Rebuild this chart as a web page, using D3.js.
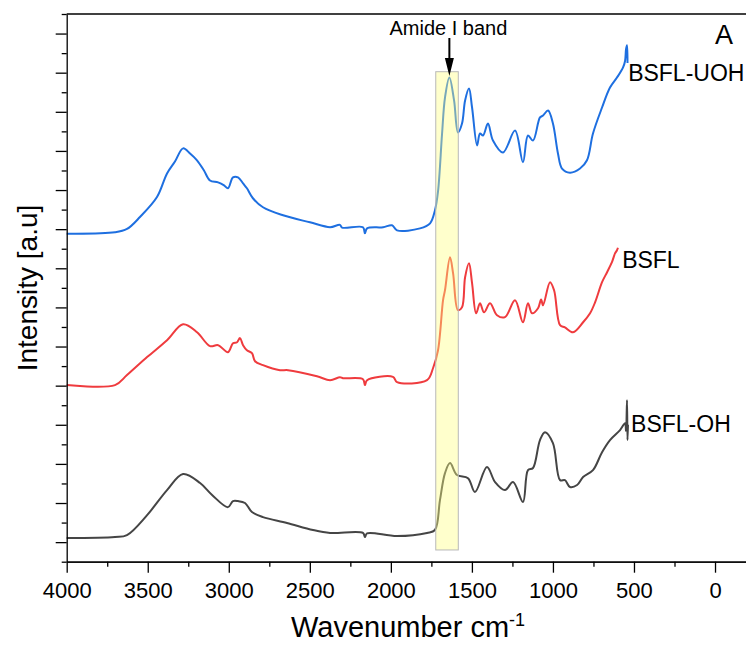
<!DOCTYPE html>
<html>
<head>
<meta charset="utf-8">
<script src="https://cdnjs.cloudflare.com/ajax/libs/d3/7.8.5/d3.min.js"></script>
<style>
  body { margin: 0; background: #fff; }
  svg { font-family: "Liberation Sans", Arial, sans-serif; }
</style>
</head>
<body>
<svg id="chart"></svg>
<script>
// FTIR spectra, values (wavenumber cm-1, stacked intensity a.u.)
const uohWave = [4000,3702,3628,3548,3443,3381,3332,3282,3239,3196,3153,3116,3066,3029,3005,2974,2943,2912,2888,2851,2789,2665,2499,2375,2314,2301,2172,2160,2147,2048,1993,1962,1820,1758,1728,1709,1684,1666,1639,1610,1586,1561,1542,1518,1499,1468,1450,1431,1401,1370,1308,1234,1185,1154,1123,1080,1061,1030,1000,969,944,895,833,790,753,697,648,605,568,555,549,543,540];
const uohInt = [16.77,16.84,17.01,17.62,18.64,19.85,20.46,21.13,20.87,20.52,20.0,19.49,19.39,19.24,19.09,19.65,19.65,19.34,19.09,18.58,18.12,17.71,17.35,17.10,17.22,17.08,17.10,16.79,17.04,17.10,17.20,16.94,17.04,17.30,17.96,18.93,21.89,23.73,24.76,23.58,21.94,22.40,23.58,24.19,23.22,21.28,21.89,21.79,22.40,21.53,20.92,22.04,20.42,21.79,21.53,22.71,22.81,23.07,22.40,20.87,20.10,19.89,20.10,20.52,21.89,23.22,24.24,24.75,25.26,25.6,26.2,26.4,25.5];

const bsflWave = [4000,3702,3628,3504,3381,3282,3196,3116,3066,3005,2974,2949,2931,2912,2888,2857,2838,2789,2684,2634,2456,2375,2314,2295,2172,2160,2147,1987,1962,1777,1740,1709,1678,1666,1635,1616,1586,1561,1542,1518,1499,1474,1450,1425,1388,1345,1296,1234,1185,1154,1129,1092,1073,1061,1018,993,956,926,876,814,771,740,697,666,636,617,605,599];
const bsflInt = [9.03,9.03,9.54,10.46,11.32,12.14,11.73,11.02,11.07,10.71,11.17,11.22,11.43,11.07,10.81,10.66,10.25,10.05,9.79,9.79,9.48,9.28,9.43,9.38,9.33,9.03,9.28,9.45,9.18,9.28,9.89,10.81,13.37,13.88,15.56,14.74,12.86,13.01,14.54,15.26,14.24,12.70,13.21,12.75,13.21,12.60,12.50,13.37,12.24,13.21,12.70,12.96,13.41,13.11,14.29,13.88,12.09,11.98,11.73,12.24,12.70,13.26,14.29,14.80,15.31,15.76,15.92,16.05];

const ohWave = [4000,3702,3628,3504,3381,3282,3177,3103,3005,2974,2943,2900,2857,2789,2641,2480,2375,2172,2160,2147,1962,1777,1728,1697,1666,1635,1592,1524,1481,1407,1357,1296,1246,1185,1154,1123,1080,1049,1000,956,926,895,851,814,753,697,648,586,555,549,543,540,537];
const ohInt = [1.21,1.26,1.36,2.38,3.66,4.48,4.02,3.41,2.79,3.10,3.10,3.00,2.54,2.28,1.98,1.62,1.47,1.47,1.26,1.45,1.31,1.47,1.62,3.15,4.53,5.04,4.43,4.27,3.56,4.84,4.07,3.66,4.07,3.05,4.68,4.79,6.22,6.62,6.06,4.17,4.17,3.82,3.92,4.33,4.68,5.60,6.22,6.73,7.08,6.70,8.26,6.22,7.00];

const seriesNames = ['BSFL-UOH', 'BSFL', 'BSFL-OH'];
const seriesColors = ['#1e6fe0', '#ef3b3e', '#454545'];
// label anchor (wavenumber, intensity) for each series name
const labelWave = [536, 573, 518];
const labelInt = [24.6, 15.0, 6.62];

const xMajorTicks = [4000, 3500, 3000, 2500, 2000, 1500, 1000, 500, 0];
const xMinorTicks = [3750, 3250, 2750, 2250, 1750, 1250, 750, 250, -250];
const yTicks = d3.range(0, 29);

// Amide I band: wavenumber limits, intensity limits, arrow position
const amideBand = [1723, 1584];
const amideBandInt = [0.6, 25.05];
const amidePeak = 1639;

const W = 746, H = 648;
const margin = { top: 14, left: 66.7, bottom: 86.3 };
const plotBottom = H - margin.bottom;

const svg = d3.select('#chart').attr('width', W).attr('height', H);

// x runs past the right edge of the picture, like the original
const x = d3.scaleLinear().domain([4000, -300]).range([margin.left, margin.left + 4300 * 0.16208]);
const y = d3.scaleLinear().domain([0, 28]).range([plotBottom, margin.top]);

// Spectra
const series = [
  d3.zip(uohWave, uohInt),
  d3.zip(bsflWave, bsflInt),
  d3.zip(ohWave, ohInt)
];
const line = d3.line()
  .x(d => x(d[0]))
  .y(d => y(d[1]))
  .curve(d3.curveCatmullRom.alpha(0.5));

svg.append('g').selectAll('path')
  .data(series)
  .join('path')
  .attr('d', line)
  .attr('fill', 'none')
  .attr('stroke', (d, i) => seriesColors[i])
  .attr('stroke-width', 2)
  .attr('stroke-linejoin', 'round');

// Amide I highlight, drawn over the lines
svg.append('rect')
  .attr('x', x(amideBand[0]))
  .attr('width', x(amideBand[1]) - x(amideBand[0]))
  .attr('y', y(amideBandInt[1]))
  .attr('height', y(amideBandInt[0]) - y(amideBandInt[1]))
  .attr('fill', '#ffff80')
  .attr('fill-opacity', 0.4)
  .attr('stroke', '#b8b8b8')
  .attr('stroke-width', 1);

// Axes
const xAxisMajor = d3.axisBottom(x).tickValues(xMajorTicks).tickSize(11).tickSizeOuter(0).tickPadding(10).tickFormat(d3.format('d'));
const xAxisMinor = d3.axisBottom(x).tickValues(xMinorTicks).tickSize(5).tickSizeOuter(0).tickFormat('');

const xG = svg.append('g').attr('transform', `translate(0,${plotBottom})`).call(xAxisMajor);
svg.append('g').attr('transform', `translate(0,${plotBottom})`).call(xAxisMinor);
xG.selectAll('text').attr('font-size', 22).attr('fill', '#000');

const yAxis = d3.axisLeft(y).tickValues(yTicks).tickSizeOuter(0).tickFormat('');
const yG = svg.append('g').attr('transform', `translate(${margin.left},0)`).call(yAxis);
yG.selectAll('.tick line').attr('x2', d => d % 2 ? -11 : -5);

svg.selectAll('.domain, .tick line').attr('stroke', '#000').attr('stroke-width', 1.3);

// top frame line
svg.append('line')
  .attr('x1', margin.left).attr('x2', W)
  .attr('y1', margin.top).attr('y2', margin.top)
  .attr('stroke', '#000').attr('stroke-width', 1.3);

// Series labels
svg.append('g').selectAll('text')
  .data(seriesNames)
  .join('text')
  .attr('x', (d, i) => x(labelWave[i]))
  .attr('y', (d, i) => y(labelInt[i]))
  .attr('font-size', 23)
  .text(d => d);

// Amide I annotation
const ax = x(amidePeak);
svg.append('text')
  .attr('x', ax - 1)
  .attr('y', 35)
  .attr('text-anchor', 'middle')
  .attr('font-size', 20)
  .text('Amide I band');
svg.append('line')
  .attr('x1', ax).attr('x2', ax)
  .attr('y1', 38).attr('y2', 60)
  .attr('stroke', '#000').attr('stroke-width', 2);
svg.append('path')
  .attr('d', `M${ax - 4.5},58 L${ax + 4.5},58 L${ax},76 Z`)
  .attr('fill', '#000');

// Panel letter
svg.append('text')
  .attr('x', 715).attr('y', 44)
  .attr('font-size', 27)
  .text('A');

// Axis titles
const xt = svg.append('text')
  .attr('x', 291).attr('y', 637)
  .attr('font-size', 29)
  .text('Wavenumber cm');
xt.append('tspan')
  .attr('dy', -11)
  .attr('font-size', 18)
  .text('-1');

svg.append('text')
  .attr('transform', 'translate(37,288) rotate(-90)')
  .attr('text-anchor', 'middle')
  .attr('font-size', 28)
  .text('Intensity [a.u]');
</script>
</body>
</html>
